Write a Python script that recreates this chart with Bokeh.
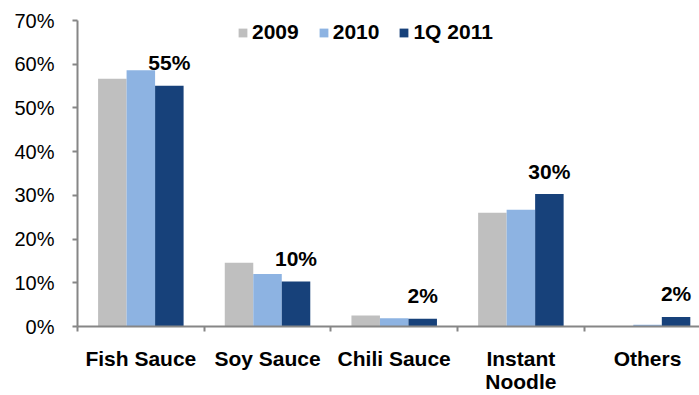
from bokeh.plotting import figure
from bokeh.models import (ColumnDataSource, Range1d, FixedTicker, PrintfTickFormatter,
                          Legend, LegendItem, LinearAxis)
from bokeh.core.properties import value
from bokeh.embed import file_html
from bokeh.resources import INLINE
import numpy as np

categories = ["Fish Sauce", "Soy Sauce", "Chili Sauce", "Instant\nNoodle", "Others"]
series_names = ["2009", "2010", "1Q 2011"]
v2009 = [56.7, 14.6, 2.5, 26.0, 0.0]
v2010 = [58.6, 12.0, 1.9, 26.7, 0.4]
v1q2011 = [55.1, 10.3, 1.8, 30.3, 2.2]
value_labels = ["55%", "10%", "2%", "30%", "2%"]
y_ticks = [0, 10, 20, 30, 40, 50, 60, 70]
colors = ["#BFBFBF", "#8DB3E2", "#17417A"]

FONT = "Liberation Sans"
centers = np.arange(len(categories)) + 0.5
bar_w = 0.225
offsets = [-bar_w, 0.0, bar_w]

p = figure(width=699, height=395, output_backend="svg", toolbar_location=None,
           x_range=Range1d(0, 4.91), y_range=Range1d(0, 70),
           min_border_left=77, min_border_top=20, min_border_right=0,
           min_border_bottom=69)
p.xaxis.visible = False
p.yaxis.visible = False
p.grid.visible = False
p.outline_line_color = None

renderers = []
for vals, off, col in zip([v2009, v2010, v1q2011], offsets, colors):
    src = ColumnDataSource(dict(x=centers + off, top=vals))
    r = p.vbar(x="x", top="top", width=bar_w, bottom=0, source=src,
               fill_color=col, line_color=None)
    renderers.append(r)

lab_src = ColumnDataSource(dict(x=centers + bar_w, y=v1q2011, t=value_labels))
p.text(x="x", y="y", text="t", source=lab_src, text_align="center",
       text_baseline="alphabetic", y_offset=-23, text_font=value(FONT),
       text_font_style="bold", text_font_size="21px", text_color="black")

xa = LinearAxis(ticker=FixedTicker(ticks=list(centers), minor_ticks=list(range(len(categories)))),
                major_label_overrides={float(c): lab for c, lab in zip(centers, categories)})
xa.axis_line_color = "#868686"
xa.axis_line_width = 2
xa.major_tick_out = 0
xa.major_tick_in = 0
xa.minor_tick_out = 5
xa.minor_tick_in = 0
xa.minor_tick_line_color = "#868686"
xa.minor_tick_line_width = 2
xa.major_label_standoff = 15
xa.major_label_text_font = FONT
xa.major_label_text_font_style = "bold"
xa.major_label_text_font_size = "21px"
xa.major_label_text_color = "black"
xa.major_label_text_line_height = 1.0
p.add_layout(xa, "below")

ya = LinearAxis(ticker=FixedTicker(ticks=y_ticks, minor_ticks=[]),
                formatter=PrintfTickFormatter(format="%d%%"))
ya.axis_line_color = "#868686"
ya.axis_line_width = 2
ya.major_tick_out = 5
ya.major_tick_in = 0
ya.major_tick_line_color = "#868686"
ya.major_tick_line_width = 2
ya.minor_tick_line_color = None
ya.major_label_standoff = 18
ya.major_label_text_font = FONT
ya.major_label_text_font_size = "20px"
ya.major_label_text_color = "black"
p.add_layout(ya, "left")

legend = Legend(items=[LegendItem(label=n, renderers=[r]) for n, r in zip(series_names, renderers)],
                orientation="horizontal", location=(160, 282))
legend.glyph_width = 11
legend.glyph_height = 11
legend.label_standoff = 4
legend.spacing = 19
legend.padding = 0
legend.margin = 0
legend.border_line_color = None
legend.background_fill_alpha = 0
legend.label_text_font = FONT
legend.label_text_font_style = "bold"
legend.label_text_font_size = "21px"
legend.label_text_color = "black"
p.add_layout(legend, "center")

open("out.html", "w").write(file_html(p, INLINE))
